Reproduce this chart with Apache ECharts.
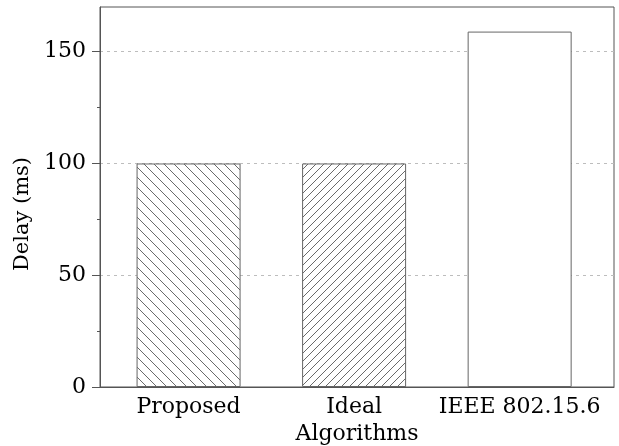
<!DOCTYPE html>
<html>
<head>
<meta charset="utf-8">
<script src="https://cdn.jsdelivr.net/npm/echarts@6/dist/echarts.min.js"></script>
<style>
  html, body { margin: 0; padding: 0; background: #fff; }
  #chart { width: 619px; height: 446px; }
</style>
</head>
<body>
<div id="chart"></div>
<script>
// Algorithms compared and their measured delay (ms)
const categories = ['Proposed', 'Ideal', 'IEEE 802.15.6'];
const delays = [100, 100, 159];
const yTicks = [0, 50, 100, 150];

// Diagonal hatch tile used as a bar fill
function hatch(size, dir) {
  const c = document.createElement('canvas');
  c.width = c.height = size;
  const g = c.getContext('2d');
  g.fillStyle = '#fff';
  g.fillRect(0, 0, size, size);
  g.strokeStyle = '#6a6a6a';
  g.lineWidth = 1;
  g.beginPath();
  for (let k = -1; k <= 1; k++) {
    if (dir === 'back') {
      g.moveTo(k * size - 1, -1);
      g.lineTo(k * size + size + 1, size + 1);
    } else {
      g.moveTo(k * size - 1, size + 1);
      g.lineTo(k * size + size + 1, -1);
    }
  }
  g.stroke();
  return { image: c, repeat: 'repeat' };
}

const fills = [hatch(10, 'back'), hatch(8, 'fwd'), '#ffffff'];
const font = '"DejaVu Serif", "Liberation Serif", serif';

const chart = echarts.init(document.getElementById('chart'), null, { renderer: 'canvas' });
chart.setOption({
  animation: false,
  backgroundColor: '#fff',
  grid: {
    left: 100, right: 5, top: 7, bottom: 59,
    outerBoundsMode: 'none',
    containLabel: false,
    show: true, borderColor: '#555', borderWidth: 1, backgroundColor: 'transparent'
  },
  xAxis: {
    type: 'value',
    min: 0.465,
    max: 3.57,
    name: 'Algorithms',
    nameLocation: 'middle',
    nameGap: 35,
    nameTextStyle: { fontFamily: font, fontSize: 22, color: '#000' },
    axisLine: { show: true, lineStyle: { color: '#555' } },
    axisTick: { show: false },
    splitLine: { show: false },
    axisLabel: {
      customValues: [1, 2, 3],
      formatter: v => categories[Math.round(v) - 1] || '',
      fontFamily: font, fontSize: 22, color: '#000', margin: 9
    }
  },
  yAxis: {
    type: 'value',
    min: 0,
    max: 170,
    name: 'Delay (ms)',
    nameLocation: 'middle',
    nameGap: 66,
    nameTextStyle: { fontFamily: font, fontSize: 21, color: '#000', padding: [0, 34, 0, 0] },
    axisLine: { show: true, lineStyle: { color: '#555' } },
    axisTick: { show: true, customValues: yTicks, length: 8, lineStyle: { color: '#555' } },
    minorTick: { show: true, splitNumber: 2, length: 3, lineStyle: { color: '#555' } },
    axisLabel: {
      customValues: yTicks,
      fontFamily: font, fontSize: 22, color: '#000', margin: 14
    },
    splitLine: {
      show: true,
      lineStyle: { color: '#bdbdbd', type: [3, 4], width: 1 }
    },
    interval: 50
  },
  series: [{
    type: 'bar',
    barWidth: 104,
    data: delays.map((v, i) => ({
      value: [i + 1, v],
      itemStyle: { color: fills[i], borderColor: '#666', borderWidth: 1 }
    }))
  }]
});
</script>
</body>
</html>
